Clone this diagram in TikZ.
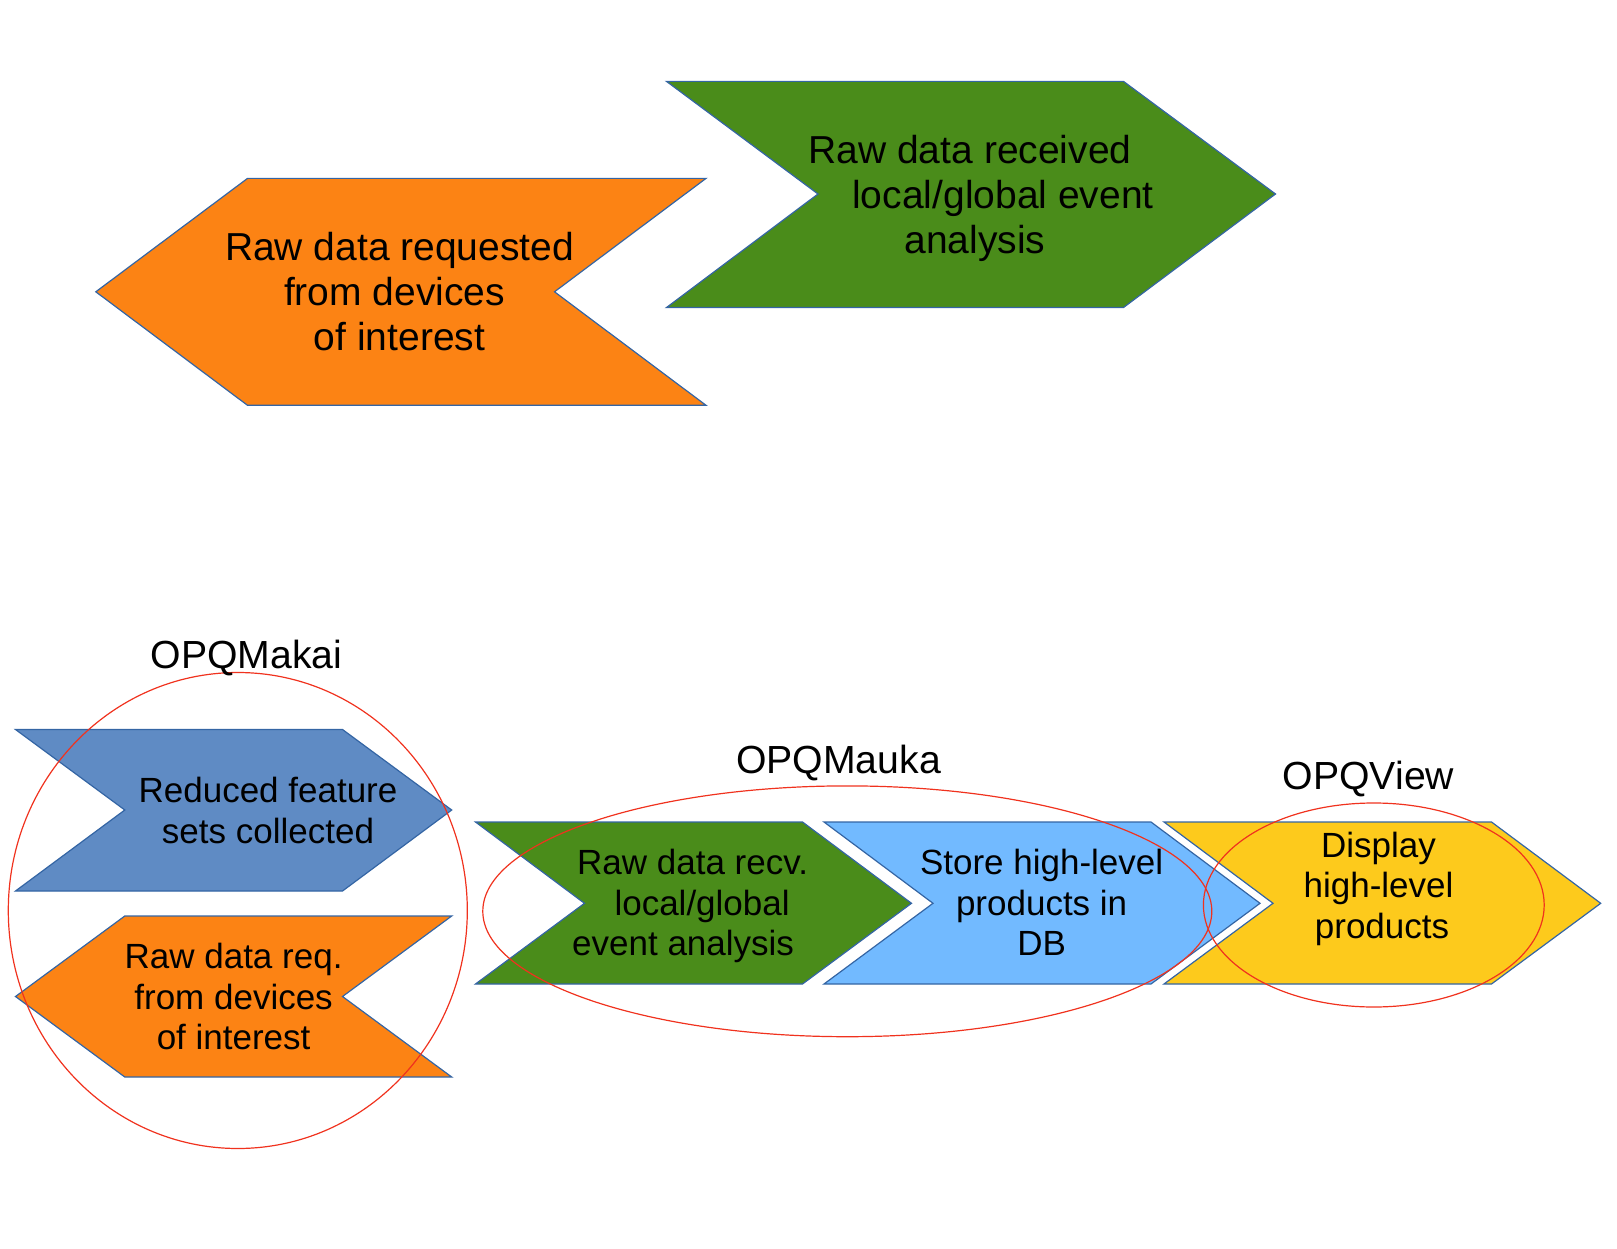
\documentclass[tikz,border=0pt]{standalone}
\usepackage{fontspec}
\setmainfont{Liberation Sans}
\definecolor{orng}{HTML}{FC8314}
\definecolor{grn}{HTML}{4A8C1A}
\definecolor{blu}{HTML}{5F8BC4}
\definecolor{lblu}{HTML}{72BAFF}
\definecolor{ylw}{HTML}{FDCA1C}
\definecolor{edge}{HTML}{3465A4}
\definecolor{ring}{HTML}{F0321E}
\newcommand\padL[1]{\hbox to #1{}}
\newcommand\padR[1]{\hbox to #1{}}
\begin{document}
\begin{tikzpicture}[x=1pt,y=-1pt,
  shp/.style={draw=edge,line width=1.2pt,line join=miter},
  ringline/.style={draw=ring,line width=1.2pt},
  bigtxt/.style={align=center,inner sep=0pt,font=\fontsize{39}{45}\selectfont},
  smalltxt/.style={align=center,inner sep=0pt,font=\fontsize{35}{40.5}\selectfont},
  lbl/.style={inner sep=0pt,font=\fontsize{39.2}{44}\selectfont}]
\useasboundingbox (0,0) rectangle (1617,1249);
% top row
\draw[shp,fill=orng] (95.8,291.8) -- (247.5,178.4) -- (706,178.4) -- (554.5,291.8) -- (706,405.3) -- (247.5,405.3) -- cycle;
\draw[shp,fill=grn] (666.5,81.4) -- (1123.5,81.4) -- (1275.5,194) -- (1123.5,307.5) -- (666.5,307.5) -- (818,194) -- cycle;
\node[bigtxt] (treq) at (399.6,291.5) {Raw data requested\\from devices\padR{10pt}\\of interest};
\node[bigtxt] (trecv) at (975,198.4) {Raw data received\padR{10pt}\\\padL{56pt}local/global event\\analysis};
% bottom row shapes
\draw[shp,fill=blu] (15.5,729.5) -- (342.5,729.5) -- (451.7,810) -- (342.5,891) -- (15.5,891) -- (124.8,810) -- cycle;
\draw[shp,fill=orng] (124.8,916) -- (451.7,916) -- (342.5,996.5) -- (451.7,1077) -- (124.8,1077) -- (15.5,996.5) -- cycle;
\draw[shp,fill=grn] (475.5,822) -- (802.5,822) -- (911.5,903.3) -- (802.5,984) -- (475.5,984) -- (584.5,903.3) -- cycle;
\draw[shp,fill=lblu] (824,822) -- (1151,822) -- (1260,903.3) -- (1151,984) -- (824,984) -- (933,903.3) -- cycle;
\draw[shp,fill=ylw] (1164,822) -- (1491.5,822) -- (1600.7,903.3) -- (1491.5,984) -- (1164,984) -- (1273,903.3) -- cycle;
% texts
\node[smalltxt] (reduced) at (268,810.6) {Reduced feature\\sets collected};
\node[smalltxt] (rreq) at (233.6,996.7) {Raw data req.\\from devices\\of interest};
\node[smalltxt] (rrecv) at (692.6,906.1) {Raw data recv.\\\padL{19pt}local/global\\event analysis\padR{19pt}};
\node[smalltxt] (store) at (1041.6,902.4) {Store high-level\\products in\\DB};
\node[smalltxt] (disp) at (1378.5,888.8) {Display\\high-level\\\padL{7pt}products};
% rings
\draw[ringline] (237.8,910.5) ellipse [x radius=229.5, y radius=238];
\draw[ringline] (847.3,911.3) ellipse [x radius=364.5, y radius=125.4];
\draw[ringline] (1373.8,905) ellipse [x radius=170.4, y radius=102];
% labels
\node[lbl] (makai) at (246.5,657.5) {OPQMakai};
\node[lbl] (mauka) at (838.5,762.5) {OPQMauka};
\node[lbl] (view) at (1368.5,779) {OPQView};
\end{tikzpicture}
\end{document}
